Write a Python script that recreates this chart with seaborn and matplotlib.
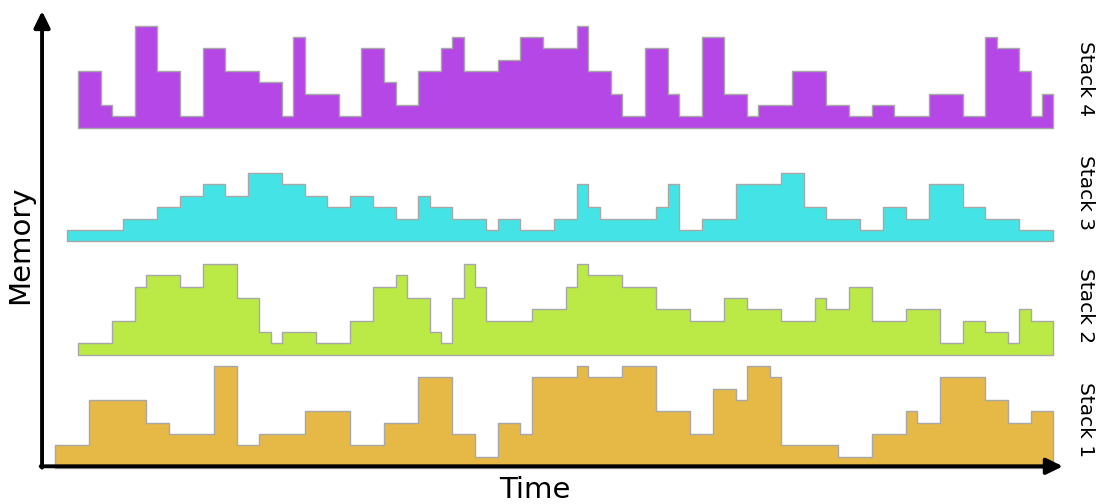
import numpy as np
import pandas as pd
import matplotlib
matplotlib.use("Agg")
import matplotlib.pyplot as plt
import seaborn as sns

# ---- data (time units / memory units) ----
stack_names = ["Stack 1", "Stack 2", "Stack 3", "Stack 4"]
stack_colors = ["#E6B845", "#BBE946", "#44E4E6", "#B447E6"]

stack1_edges = [0, 3, 8, 10, 14, 16, 18, 22, 26, 29, 32, 35, 37, 39, 41, 42, 46, 47, 50, 53,
                56, 58, 60, 61, 63, 64, 69, 72, 75, 76, 78, 82, 84, 86, 88]
stack1_heights = [2, 6, 4, 3, 9, 2, 3, 5, 2, 4, 8, 3, 1, 4, 3, 8, 9, 8, 9, 5,
                  3, 7, 6, 9, 8, 2, 1, 3, 5, 4, 8, 6, 4, 5]

stack2_edges = [2, 5, 7, 8, 11, 13, 16, 18, 19, 20, 23, 26, 28, 30, 31, 33, 34, 35, 36, 37,
                38, 42, 45, 46, 47, 50, 53, 56, 59, 61, 64, 67, 68, 70, 72, 75, 78, 80, 82, 84,
                85, 86, 88]
stack2_heights = [1, 3, 6, 7, 6, 8, 5, 2, 1, 2, 1, 3, 6, 7, 5, 2, 1, 5, 8, 6,
                  3, 4, 6, 8, 7, 6, 4, 3, 5, 4, 3, 5, 4, 6, 3, 4, 1, 3, 2, 1,
                  4, 3]

stack3_edges = [1, 6, 9, 11, 13, 15, 17, 20, 22, 24, 26, 28, 30, 32, 33, 35, 38, 39, 41, 44,
                46, 47, 48, 53, 54, 55, 57, 60, 64, 66, 68, 71, 73, 75, 77, 80, 82, 85, 88]
stack3_heights = [1, 2, 3, 4, 5, 4, 6, 5, 4, 3, 4, 3, 2, 4, 3, 2, 1, 2, 1, 2,
                  5, 3, 2, 3, 5, 1, 2, 5, 6, 3, 2, 1, 3, 2, 5, 3, 2, 1]

stack4_edges = [2, 4, 5, 7, 9, 11, 13, 15, 18, 20, 21, 22, 25, 27, 29, 30, 32, 34, 35, 36,
                39, 41, 43, 46, 47, 49, 50, 52, 54, 55, 57, 59, 61, 62, 65, 68, 70, 72, 74, 77,
                80, 82, 83, 85, 86, 87, 88]
stack4_heights = [5, 2, 1, 9, 5, 1, 7, 5, 4, 1, 8, 3, 1, 7, 4, 2, 5, 7, 8, 5,
                  6, 8, 7, 9, 5, 3, 1, 7, 3, 1, 8, 3, 1, 2, 5, 2, 1, 2, 1, 3,
                  1, 8, 7, 5, 1, 3]

all_edges = [stack1_edges, stack2_edges, stack3_edges, stack4_edges]
all_heights = [stack1_heights, stack2_heights, stack3_heights, stack4_heights]

# ---- layout ----
stack_gap = 10  # vertical spacing between stack baselines (memory units)

sns.set_style("white")
fig = plt.figure(figsize=(11.01, 5.04), dpi=100)
ax = fig.add_axes([0, 0, 1, 1])
ax.set_xlim(-4.877, 92.21)
ax.set_ylim(-3.175, 41.27)
ax.axis("off")

# outline data for seaborn
rows = []
for i, (name, edges, heights) in enumerate(zip(stack_names, all_edges, all_heights)):
    base = i * stack_gap
    ys = list(heights) + [heights[-1]]
    xs = [edges[0]] + list(edges) + [edges[-1], edges[0]]
    yv = [base] + [base + h for h in ys] + [base, base]
    for k, (x, y) in enumerate(zip(xs, yv)):
        rows.append({"stack": name, "order": k, "t": x, "mem": y})
    ax.fill_between(edges, base, [base + h for h in ys], step="post",
                    color=stack_colors[i], lw=0, zorder=1)
df = pd.DataFrame(rows)

sns.lineplot(data=df, x="t", y="mem", hue="stack", units="stack",
             palette=["#a8a8a8"] * 4, estimator=None, sort=False,
             drawstyle="steps-post", lw=1.0, legend=False, ax=ax, zorder=2)

# axes arrows
x0, y0 = -1.17, 0.15
ax.annotate("", xy=(88.85, y0), xytext=(x0 - 0.12, y0),
            arrowprops=dict(arrowstyle="-|>,head_length=0.45,head_width=0.22",
                            lw=2.8, color="black",
                            mutation_scale=22, shrinkA=0, shrinkB=0), zorder=5)
ax.annotate("", xy=(x0, 40.3), xytext=(x0, y0 - 0.12),
            arrowprops=dict(arrowstyle="-|>,head_length=0.45,head_width=0.22",
                            lw=2.8, color="black",
                            mutation_scale=22, shrinkA=0, shrinkB=0), zorder=5)

ax.text(42.3, -1.95, "Time", fontsize=21, ha="center", va="center", color="black")
ax.text(-3.1, 19.7, "Memory", fontsize=21, ha="center", va="center", rotation=90,
        color="black")

for i, name in enumerate(stack_names):
    ax.text(90.8, i * stack_gap + 4.3, name, fontsize=14.5, ha="center",
            va="center", rotation=-90, color="black")

fig.savefig("out.png", dpi=100)
